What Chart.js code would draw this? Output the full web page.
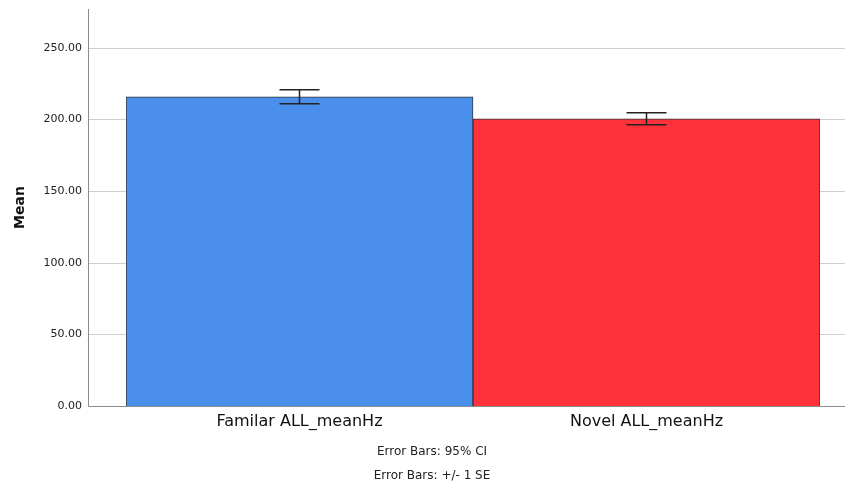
<!DOCTYPE html>
<html>
<head>
<meta charset="utf-8">
<script src="https://cdn.jsdelivr.net/npm/chart.js@4"></script>
<style>
  html, body { margin: 0; padding: 0; background: #fff; }
  #wrap { width: 845px; height: 485px; }
</style>
</head>
<body>
<div id="wrap"><canvas id="meanChart" width="845" height="485"></canvas></div>
<script>
// values
const categories = ['Familar ALL_meanHz', 'Novel ALL_meanHz'];
const means = [215.8, 200.3];
const ciLow = [210.9, 196.2];
const ciHigh = [220.7, 204.6];
const barColors = ['#4a8fec', '#ff323b'];
const yTicks = [0, 50, 100, 150, 200, 250];
const footNotes = ['Error Bars: 95% CI', 'Error Bars: +/- 1 SE'];

const FONT = "'DejaVu Sans', sans-serif";

// gridlines + axis lines that run from the y axis line to the right edge
const frame = {
    id: 'frame',
    beforeDatasetsDraw(chart) {
        const ctx = chart.ctx, y = chart.scales.y, area = chart.chartArea;
        const axisX = 88, rightX = chart.width;
        ctx.save();
        ctx.lineWidth = 1;
        ctx.strokeStyle = '#cfcfcf';
        yTicks.forEach(function(v) {
            if (v === 0) return;
            const py = Math.round(y.getPixelForValue(v)) + 0.5;
            ctx.beginPath(); ctx.moveTo(axisX, py); ctx.lineTo(rightX, py); ctx.stroke();
        });
        ctx.strokeStyle = '#8c8c8c';
        const by = Math.round(area.bottom) + 0.5;
        ctx.beginPath(); ctx.moveTo(axisX + 0.5, area.top); ctx.lineTo(axisX + 0.5, by); ctx.lineTo(rightX, by); ctx.stroke();
        ctx.restore();
    },
    afterDatasetsDraw(chart) {
        const ctx = chart.ctx, y = chart.scales.y, x = chart.scales.x;
        ctx.save();
        ctx.strokeStyle = '#222';
        ctx.lineWidth = 1.5;
        categories.forEach(function(c, i) {
            const cx = x.getPixelForValue(i);
            const top = y.getPixelForValue(ciHigh[i]), bot = y.getPixelForValue(ciLow[i]);
            ctx.beginPath();
            ctx.moveTo(cx, top); ctx.lineTo(cx, bot);
            ctx.moveTo(cx - 20, top); ctx.lineTo(cx + 20, top);
            ctx.moveTo(cx - 20, bot); ctx.lineTo(cx + 20, bot);
            ctx.stroke();
        });
        ctx.restore();
    },
    afterDraw(chart) {
        const ctx = chart.ctx;
        ctx.save();
        ctx.fillStyle = '#222';
        ctx.font = '12px ' + FONT;
        ctx.textAlign = 'center';
        ctx.textBaseline = 'middle';
        ctx.fillText(footNotes[0], 432, 452);
        ctx.fillText(footNotes[1], 432, 476);
        ctx.restore();
    }
};

new Chart(document.getElementById('meanChart').getContext('2d'), {
    type: 'bar',
    data: {
        labels: categories,
        datasets: [{
            label: 'Mean',
            data: means,
            backgroundColor: barColors,
            borderColor: '#333',
            borderWidth: 1,
            barPercentage: 1,
            categoryPercentage: 1
        }]
    },
    options: {
        responsive: false,
        animation: false,
        layout: { padding: { top: 9, right: 25, bottom: 0, left: 0 } },
        plugins: { legend: { display: false }, tooltip: { enabled: false } },
        scales: {
            x: {
                grid: { display: false, drawTicks: false },
                border: { display: false },
                ticks: { color: '#111', font: { family: FONT, size: 16 }, padding: 6 },
                afterFit(scale) { scale.height = 79; }
            },
            y: {
                min: 0,
                max: 277,
                afterBuildTicks(scale) { scale.ticks = yTicks.map(function(v) { return { value: v }; }); },
                grid: { display: false, drawTicks: false },
                border: { display: false },
                ticks: {
                    color: '#222',
                    font: { family: FONT, size: 11 },
                    padding: 44,
                    callback: function(v) { return Number(v).toFixed(2); }
                },
                title: {
                    display: true,
                    text: 'Mean',
                    color: '#111',
                    font: { family: FONT, size: 14, weight: 'bold' },
                    padding: { top: 12, bottom: 0 }
                },
                afterFit(scale) {
                    scale.width = 126;
                    scale.paddingTop = 0;
                    scale.paddingBottom = 0;
                }
            }
        }
    },
    plugins: [frame]
});
</script>
</body>
</html>
